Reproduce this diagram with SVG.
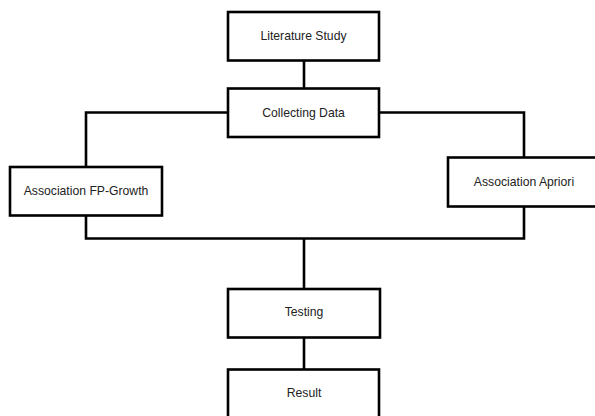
<svg xmlns="http://www.w3.org/2000/svg" width="595" height="416" viewBox="0 0 595 416">
<style>
.box{fill:#fff;stroke:#000;stroke-width:2.6}
.lbl{font-family:"Liberation Sans",Arial,sans-serif;font-size:12.2px;fill:#222;text-anchor:middle;dominant-baseline:central}
.conn{fill:none;stroke:#000;stroke-width:2.6}
</style>
<rect width="595" height="416" fill="#fff"/>
<g id="connectors">
<path class="conn" d="M304,60 V88"/>
<path class="conn" d="M228,112.5 H86 V167"/>
<path class="conn" d="M379,112.5 H524 V157"/>
<path class="conn" d="M86,215 V238.5 H524 V207"/>
<path class="conn" d="M304,238.5 V289"/>
<path class="conn" d="M304,337 V369"/>
</g>
<g id="literature-study"><rect class="box" x="228" y="12" width="151" height="48.5"/><text class="lbl" x="303.5" y="36">Literature Study</text></g>
<g id="collecting-data"><rect class="box" x="228" y="88.5" width="151" height="48.5"/><text class="lbl" x="303.5" y="112.5">Collecting Data</text></g>
<g id="fp-growth"><rect class="box" x="10" y="167" width="152" height="48.5"/><text class="lbl" x="86" y="191">Association FP-Growth</text></g>
<g id="apriori"><rect class="box" x="448" y="157.5" width="152" height="49"/><text class="lbl" x="524" y="181.5">Association Apriori</text></g>
<g id="testing"><rect class="box" x="228" y="289" width="152" height="48.5"/><text class="lbl" x="304" y="312">Testing</text></g>
<g id="result"><rect class="box" x="228" y="369.5" width="151" height="60"/><text class="lbl" x="304" y="393">Result</text></g>
</svg>
